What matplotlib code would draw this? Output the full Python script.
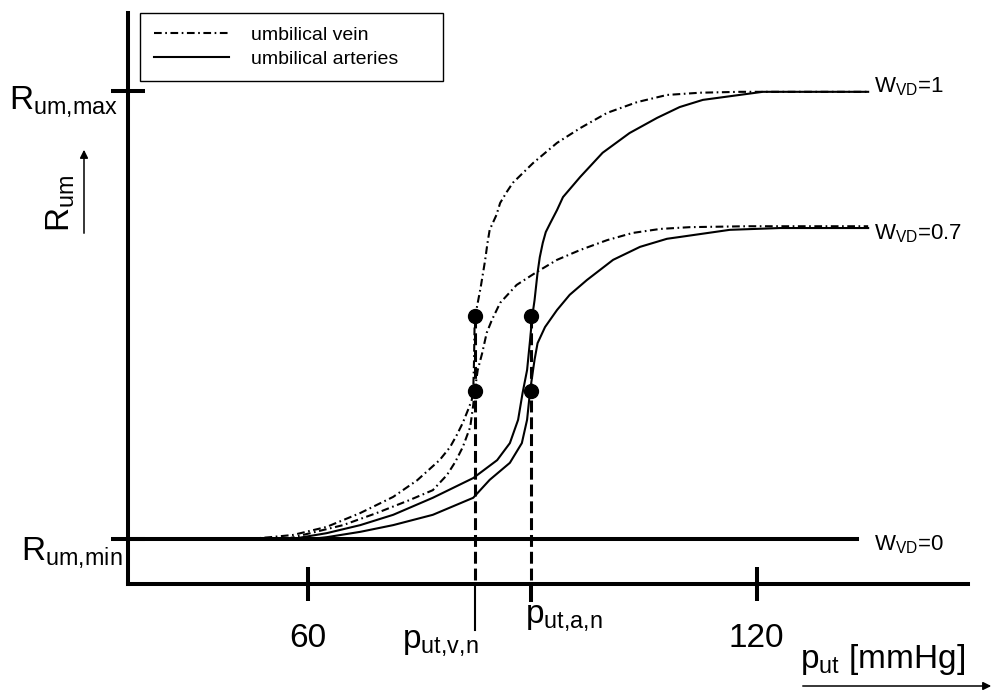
import numpy as np
import matplotlib
matplotlib.use("Agg")
import matplotlib.pyplot as plt

plt.rcParams['font.family'] = ['Liberation Sans', 'DejaVu Sans']
plt.rcParams['mathtext.fontset'] = 'custom'
plt.rcParams['mathtext.rm'] = 'Liberation Sans'
plt.rcParams['mathtext.it'] = 'Liberation Sans:italic'
plt.rcParams['mathtext.bf'] = 'Liberation Sans:bold'

# uterine pressure p_ut [mmHg] vs. normalised umbilical resistance (0 = R_um,min, 1 = R_um,max)
vein_w1_x = [52.0, 54.9, 58.0, 62.5, 67.0, 71.4, 74.6, 77.6, 79.0, 79.9, 80.7, 81.4, 81.9, 82.1,
             82.2, 82.25, 82.3, 82.6, 83.1, 83.7, 84.0, 84.3, 85.2, 85.7, 86.6, 87.4, 90.1, 93.3,
             96.4, 100.0, 104.0, 108.0, 112.4, 117.8, 134.9]
vein_w1_y = [0.0, 0.004, 0.009, 0.027, 0.058, 0.094, 0.131, 0.176, 0.205, 0.232, 0.259, 0.288, 0.31, 0.33,
             0.393, 0.444, 0.498, 0.518, 0.562, 0.623, 0.660, 0.690, 0.723, 0.750, 0.775, 0.795, 0.839,
             0.884, 0.917, 0.951, 0.975, 0.991, 0.996, 0.998, 0.998]

vein_w07_x = [55.0, 57.6, 60.3, 64.7, 69.2, 73.6, 76.7, 78.6, 79.7, 80.7, 81.7, 82.1, 82.3, 82.7, 83.3,
              83.9, 84.6, 85.7, 87.9, 90.6, 93.3, 96.4, 100.0, 103.4, 107.1, 111.1, 118.7, 134.9]
vein_w07_y = [0.0, 0.002, 0.013, 0.031, 0.058, 0.087, 0.109, 0.143, 0.172, 0.205, 0.250, 0.299, 0.330,
              0.377, 0.415, 0.460, 0.489, 0.527, 0.567, 0.596, 0.623, 0.645, 0.667, 0.683, 0.692,
              0.696, 0.698, 0.698]

art_w1_x = [56.0, 58.3, 59.3, 62.5, 67.0, 71.4, 76.7, 82.1, 85.3, 87.0, 88.1, 88.7, 89.3, 89.7, 90.0,
            90.3, 90.7, 91.0, 91.4, 91.8, 92.4, 93.3, 94.1, 96.4, 99.4, 103.0, 106.7, 109.7, 112.8,
            120.8, 134.9]
art_w1_y = [0.0, 0.001, 0.004, 0.013, 0.031, 0.054, 0.092, 0.136, 0.176, 0.214, 0.266, 0.326, 0.377,
            0.444, 0.498, 0.533, 0.594, 0.629, 0.661, 0.685, 0.705, 0.734, 0.763, 0.808, 0.862,
            0.906, 0.940, 0.964, 0.980, 0.998, 0.998]

art_w07_x = [58.0, 60.9, 62.5, 67.0, 71.4, 76.7, 82.1, 84.3, 87.0, 88.6, 89.3, 89.7, 90.1, 90.3, 90.7,
             91.7, 93.3, 95.0, 97.3, 100.8, 104.4, 108.0, 109.7, 116.4, 123.1, 134.9]
art_w07_y = [0.0, 0.001, 0.004, 0.016, 0.031, 0.054, 0.092, 0.132, 0.170, 0.214, 0.266, 0.330, 0.377,
             0.400, 0.437, 0.473, 0.511, 0.545, 0.578, 0.623, 0.652, 0.670, 0.674, 0.690, 0.694, 0.694]

# W_VD = 0: resistance stays at R_um,min
base_end = 133.4

# normal operating points
p_vein_n = 82.3
p_art_n = 89.8
dot_x = [p_vein_n, p_vein_n, p_art_n, p_art_n]
dot_y = [0.498, 0.33, 0.498, 0.33]

w_labels = [r'$\mathrm{W}_{\mathrm{VD}}$=1', r'$\mathrm{W}_{\mathrm{VD}}$=0.7', r'$\mathrm{W}_{\mathrm{VD}}$=0']
w_levels = [0.998, 0.697, 0.0]
w_offsets = [4, -5, -4]

xticks = [60, 120]
xticklabels = ['60', '120']

big = 24

fig = plt.figure(figsize=(9.95, 6.93), dpi=100)
ax = fig.add_axes([0.1286, 0.1573, 0.8442, 0.8240])
ax.set_xlim(35.94, 148.24)
ax.set_ylim(-0.1004, 1.174)

for s in ['top', 'right']:
    ax.spines[s].set_visible(False)
for s in ['left', 'bottom']:
    ax.spines[s].set_linewidth(2.9)

ax.set_xticks(xticks)
ax.set_xticklabels(xticklabels, fontsize=big)
ax.set_yticks([0, 1])
ax.set_yticklabels([])
ax.tick_params(direction='inout', length=24, width=2.9, pad=16)

dashdot = (0, (3.7, 1.7, 0.8, 1.7))
ax.plot(vein_w1_x, vein_w1_y, color='k', lw=1.5, ls=dashdot, label='umbilical vein')
ax.plot(vein_w07_x, vein_w07_y, color='k', lw=1.5, ls=dashdot)
ax.plot(art_w1_x, art_w1_y, color='k', lw=1.5, label='umbilical arteries')
ax.plot(art_w07_x, art_w07_y, color='k', lw=1.5)
ax.plot([35.94, base_end], [0, 0], color='k', lw=2.9)

# dashed drop lines from the operating points to the axis
ymin = -0.1004
ax.plot([p_vein_n, p_vein_n], [0.498, ymin], color='k', lw=2.2, ls=(0, (3.9, 1.6)))
ax.plot([p_art_n, p_art_n], [0.498, ymin], color='k', lw=2.2, ls=(0, (3.9, 1.6)))
ax.plot([p_vein_n, p_vein_n], [ymin, -0.203], color='k', lw=1.5, clip_on=False)
ax.plot([p_art_n, p_art_n], [ymin, -0.136], color='k', lw=2.9, clip_on=False)
ax.plot(dot_x, dot_y, 'o', color='k', ms=10)

for lab, lev, off in zip(w_labels, w_levels, w_offsets):
    ax.annotate(lab, xy=(134.9, lev), xytext=(4, off), textcoords='offset points',
                va='center', ha='left', fontsize=16, annotation_clip=False)

ax.annotate(r'$\mathrm{p}_{\mathrm{ut{,}v{,}n}}$', xy=(p_vein_n, ymin), xytext=(3, -46),
            textcoords='offset points', ha='right', va='baseline', fontsize=big,
            annotation_clip=False)
ax.annotate(r'$\mathrm{p}_{\mathrm{ut{,}a{,}n}}$', xy=(p_art_n, ymin), xytext=(-4, -28),
            textcoords='offset points', ha='left', va='baseline', fontsize=big,
            annotation_clip=False)

fig.text(118 / 995, 1 - 109 / 693, r'$\mathrm{R}_{\mathrm{um{,}max}}$', ha='right', va='baseline', fontsize=big)
fig.text(123 / 995, 1 - 560 / 693, r'$\mathrm{R}_{\mathrm{um{,}min}}$', ha='right', va='baseline', fontsize=big)
fig.text(61 / 995, 1 - 203 / 693, r'$\mathrm{R}_{\mathrm{um}}$', ha='center', va='center',
         rotation=90, fontsize=big)
fig.text(800 / 995, 1 - 668 / 693, r'$\mathrm{p}_{\mathrm{ut}}$ [mmHg]', ha='left', va='baseline', fontsize=big)

ax.annotate('', xy=(994 / 995, 1 - 686 / 693), xytext=(800 / 995, 1 - 686 / 693),
            xycoords='figure fraction', textcoords='figure fraction',
            arrowprops=dict(arrowstyle='-|>', lw=1.1, color='k', mutation_scale=12))
ax.annotate('', xy=(84 / 995, 1 - 147 / 693), xytext=(84 / 995, 1 - 236 / 693),
            xycoords='figure fraction', textcoords='figure fraction',
            arrowprops=dict(arrowstyle='-|>', lw=1.1, color='k', mutation_scale=12))

leg = ax.legend(loc='upper left', bbox_to_anchor=(140 / 995, 1 - 81 / 693, 303 / 995, 68 / 693),
                bbox_transform=fig.transFigure, mode='expand', borderaxespad=0,
                fontsize=14, handlelength=3.9, handletextpad=1.1, labelspacing=0.3,
                fancybox=False, framealpha=1, edgecolor='k', borderpad=0.7)
leg.get_frame().set_linewidth(1.0)

fig.savefig('out.png', dpi=100)
